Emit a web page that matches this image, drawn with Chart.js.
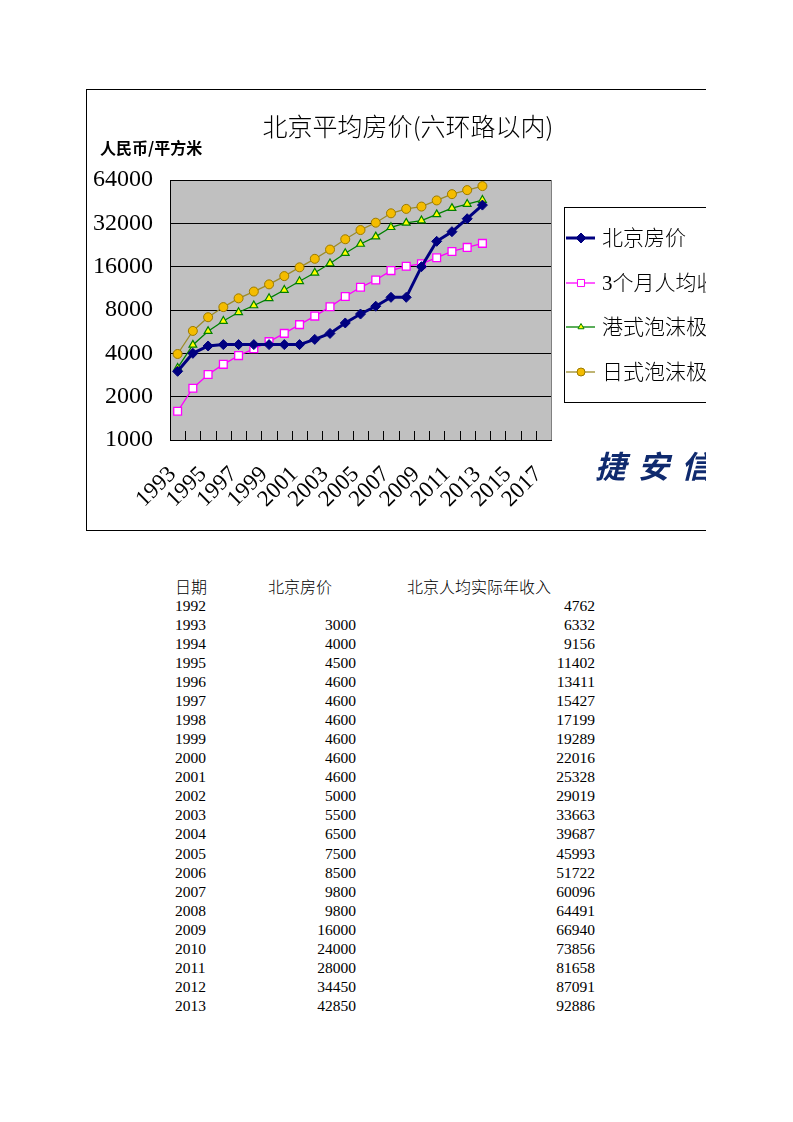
<!DOCTYPE html>
<html>
<head>
<meta charset="utf-8">
<script src="https://cdn.jsdelivr.net/npm/chart.js@4/dist/chart.umd.min.js"></script>
<style>
  body { margin: 0; background: #fff; width: 793px; height: 1122px; position: relative; overflow: hidden; }
  #box { position: absolute; left: 86px; top: 89px; width: 619px; height: 440px; border: 1px solid #000; border-right: none; overflow: hidden; }
  #chart { position: absolute; left: 0; top: 0; }
  #table { position: absolute; left: 0; top: 0; font-family: "Liberation Serif", "Noto Sans CJK SC", serif; color: #000; }
  .cell { position: absolute; white-space: nowrap; font-size: 15.5px; line-height: 19px; }
  .hd { font-family: "Noto Sans CJK SC", sans-serif; font-size: 16px; font-weight: 300; }
</style>
</head>
<body>
<div id="box"><canvas id="chart" width="619" height="440"></canvas></div>
<div id="table"></div>
<script>
// ================= DATA =================
const categories = ["1993","1994","1995","1996","1997","1998","1999","2000","2001","2002","2003","2004","2005","2006","2007","2008","2009","2010","2011","2012","2013","2014","2015","2016","2017"];
const yTicks = [1000, 2000, 4000, 8000, 16000, 32000, 64000];

const seriesNames = ["北京房价", "3个月人均收入", "港式泡沫极限", "日式泡沫极限"];
const housePrice = [3000,4000,4500,4600,4600,4600,4600,4600,4600,5000,5500,6500,7500,8500,9800,9800,16000,24000,28000,34450,42850];
const threeMonthIncome = [1583,2289,2851,3353,3857,4300,4822,5504,6332,7255,8416,9922,11498,12931,15024,16123,16735,18464,20415,21773,23222];
const hkBubble = [3166,4578,5701,6706,7714,8600,9645,11008,12664,14510,16832,19844,22997,25861,30048,32246,33470,36928,40829,43546,46443];
const jpBubble = [3958,5723,7126,8382,9642,10749,12056,13760,15830,18137,21039,24804,28746,32326,37560,40307,41838,46160,51036,54432,58054];

const tableHeaders = ["日期", "北京房价", "北京人均实际年收入"];
const tableYears = ["1992","1993","1994","1995","1996","1997","1998","1999","2000","2001","2002","2003","2004","2005","2006","2007","2008","2009","2010","2011","2012","2013"];
const tablePrice = ["",3000,4000,4500,4600,4600,4600,4600,4600,4600,5000,5500,6500,7500,8500,9800,9800,16000,24000,28000,34450,42850];
const tableIncome = [4762,6332,9156,11402,13411,15427,17199,19289,22016,25328,29019,33663,39687,45993,51722,60096,64491,66940,73856,81658,87091,92886];

const SERIF = '"Liberation Serif", "Noto Sans CJK SC", serif';
const CJK = '"Noto Sans CJK SC", sans-serif';

// ================= PLUGINS =================
const plotDecor = {
  id: "plotDecor",
  beforeDraw(chart) {
    const { ctx, chartArea: a } = chart;
    ctx.save();
    ctx.fillStyle = "#c0c0c0";
    ctx.fillRect(a.left, a.top, a.right - a.left, a.bottom - a.top);
    ctx.restore();
  },
  beforeDatasetsDraw(chart) {
    const { ctx, chartArea: a } = chart;
    const xs = chart.scales.x;
    ctx.save();
    // right border of plot
    ctx.strokeStyle = "#808080";
    ctx.lineWidth = 1;
    ctx.beginPath();
    ctx.moveTo(a.right + 0.5, a.top);
    ctx.lineTo(a.right + 0.5, a.bottom);
    ctx.stroke();
    // inside tick marks between categories
    ctx.strokeStyle = "#000";
    for (let i = 1; i < categories.length; i++) {
      const x = Math.round((xs.getPixelForValue(i - 1) + xs.getPixelForValue(i)) / 2) + 0.5;
      ctx.beginPath();
      ctx.moveTo(x, a.bottom);
      ctx.lineTo(x, a.bottom - 9);
      ctx.stroke();
    }
    ctx.restore();
  },
  afterDraw(chart) {
    const { ctx } = chart;
    ctx.save();
    // title
    ctx.fillStyle = "#000";
    ctx.textAlign = "center";
    ctx.textBaseline = "middle";
    ctx.font = "300 25px " + CJK;
    ctx.fillText("北京平均房价(六环路以内)", 321, 36);
    // axis title
    ctx.textAlign = "left";
    ctx.font = "bold 16px " + CJK;
    ctx.fillText("人民币/平方米", 13, 58);

    // legend
    const lx = 477.5, ly = 117.5;
    ctx.strokeStyle = "#000";
    ctx.lineWidth = 1;
    ctx.strokeRect(lx, ly, 220, 195);
    const rows = [148, 193, 237, 282];
    chart.data.datasets.forEach((ds, i) => {
      const y = rows[i];
      ctx.strokeStyle = ds.borderColor;
      ctx.lineWidth = ds.borderWidth;
      ctx.beginPath();
      ctx.moveTo(479, y);
      ctx.lineTo(508, y);
      ctx.stroke();
      ctx.fillStyle = ds.pointBackgroundColor;
      ctx.strokeStyle = ds.pointBorderColor;
      ctx.lineWidth = 1;
      Chart.helpers.drawPoint(ctx, { pointStyle: ds.pointStyle, radius: ds.legendRadius, rotation: 0, borderWidth: 1 }, 494, y);
      ctx.fillStyle = "#000";
      ctx.font = "300 21px " + SERIF;
      ctx.textBaseline = "middle";
      ctx.fillText(ds.label, 515, y + 1);
    });

    // watermark
    ctx.fillStyle = "#0f2a6e";
    ctx.font = "italic bold 31px " + CJK;
    ctx.textAlign = "left";
    ["捷", "安", "信"].forEach((ch, i) => ctx.fillText(ch, 508 + i * 43, 376));
    ctx.restore();
  }
};

// ================= CHART =================
new Chart(document.getElementById("chart"), {
  type: "line",
  data: {
    labels: categories,
    datasets: [
      { label: seriesNames[0], data: housePrice, borderColor: "#000080", borderWidth: 3,
        pointStyle: "rectRot", pointRadius: 5, legendRadius: 5,
        pointBackgroundColor: "#000080", pointBorderColor: "#000080", pointBorderWidth: 1 },
      { label: seriesNames[1], data: threeMonthIncome, borderColor: "#ff00ff", borderWidth: 1.3,
        pointStyle: "rect", pointRadius: 5.5, legendRadius: 5,
        pointBackgroundColor: "#ffffff", pointBorderColor: "#ff00ff", pointBorderWidth: 1.3 },
      { label: seriesNames[2], data: hkBubble, borderColor: "#008000", borderWidth: 1.3,
        pointStyle: "triangle", pointRadius: 4.5, legendRadius: 3.5,
        pointBackgroundColor: "#ffff00", pointBorderColor: "#008000", pointBorderWidth: 1.2 },
      { label: seriesNames[3], data: jpBubble, borderColor: "#9c8c28", borderWidth: 1.3,
        pointStyle: "circle", pointRadius: 4.5, legendRadius: 4,
        pointBackgroundColor: "#f4bc00", pointBorderColor: "#9c7a00", pointBorderWidth: 1 }
    ]
  },
  options: {
    responsive: false,
    animation: false,
    layout: { padding: { top: 90, right: 155, left: 0, bottom: 0 } },
    elements: { line: { tension: 0 } },
    plugins: { legend: { display: false }, title: { display: false }, tooltip: { enabled: false } },
    scales: {
      x: {
        type: "category",
        offset: true,
        grid: { display: false, drawTicks: false },
        border: { color: "#000", width: 1 },
        ticks: {
          autoSkip: false, minRotation: 45, maxRotation: 45, padding: 21, labelOffset: -5,
          color: "#000", font: { family: SERIF, size: 23 },
          callback: function (value, index) { return index % 2 === 0 ? this.getLabelForValue(value) : ""; }
        },
        afterFit: s => { s.height = 90; }
      },
      y: {
        type: "logarithmic",
        min: 1000, max: 64000,
        grid: { color: "#000", drawTicks: false },
        border: { color: "#000", width: 1 },
        ticks: { padding: 17, color: "#000", font: { family: SERIF, size: 24 }, callback: v => String(v) },
        afterBuildTicks: s => { s.ticks = yTicks.map(v => ({ value: v })); },
        afterFit: s => { s.width = 83; }
      }
    }
  },
  plugins: [plotDecor]
});

// ================= TABLE =================
const tbl = document.getElementById("table");
function addCell(text, x, y, align, cls) {
  const d = document.createElement("div");
  d.className = "cell" + (cls ? " " + cls : "");
  d.textContent = text;
  d.style.top = y + "px";
  if (align === "right") { d.style.left = (x - 200) + "px"; d.style.width = "200px"; d.style.textAlign = "right"; }
  else d.style.left = x + "px";
  tbl.appendChild(d);
}
const headX = [175, 268, 407];
tableHeaders.forEach((h, i) => addCell(h, headX[i], 577, "left", "hd"));
tableYears.forEach((yr, i) => {
  const y = 596 + i * 19.04;
  addCell(yr, 175, y, "left");
  addCell(String(tablePrice[i]), 356, y, "right");
  addCell(String(tableIncome[i]), 595, y, "right");
});
</script>
</body>
</html>
